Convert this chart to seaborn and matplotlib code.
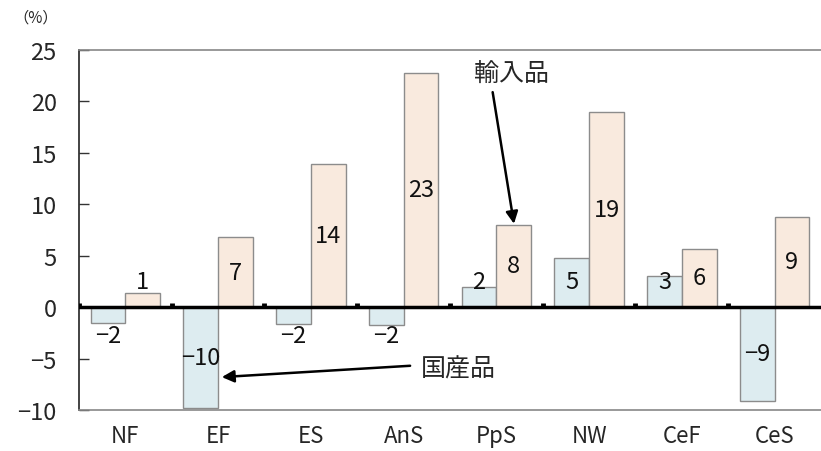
import matplotlib
matplotlib.use("Agg")
import matplotlib.pyplot as plt
import numpy as np
import pandas as pd
import seaborn as sns

categories = ["NF", "EF", "ES", "AnS", "PpS", "NW", "CeF", "CeS"]
domestic = [-1.5, -9.8, -1.6, -1.7, 2.0, 4.8, 3.0, -9.1]
imports = [1.4, 6.8, 13.9, 22.8, 8.0, 19.0, 5.7, 8.8]
series_names = ["国産品", "輸入品"]
yticks = [-10, -5, 0, 5, 10, 15, 20, 25]

sns.set_theme(style="white")
plt.rcParams["font.family"] = ["Noto Sans CJK JP", "DejaVu Sans"]
plt.rcParams["axes.unicode_minus"] = True

df = pd.DataFrame({
    "cat": categories * 2,
    "val": domestic + imports,
    "series": [series_names[0]] * len(categories) + [series_names[1]] * len(categories),
})

fig = plt.figure(figsize=(8.21, 4.52), dpi=100)
ax = fig.add_axes([0.0962, 0.0907, 0.9038, 0.7965])

sns.barplot(data=df, x="cat", y="val", hue="series", order=categories,
            hue_order=series_names, palette=["#DAEEF3", "#FDE9D9"],
            width=0.75, edgecolor="#8c8c8c", linewidth=1.0, legend=False, ax=ax)

ax.set_ylim(-10, 25)
ax.set_xlim(-0.5, len(categories) - 0.5)
ax.set_yticks(yticks)
ax.set_yticklabels([str(t).replace("-", "\u2212") for t in yticks], fontsize=17)
ax.set_xlabel("")
ax.set_ylabel("")
ax.tick_params(axis="x", length=0, pad=10, labelsize=16)
ax.tick_params(axis="y", direction="in", length=7, width=1, color="#333333", pad=16, left=True)

for s in ["top", "bottom"]:
    ax.spines[s].set_color("#888888")
    ax.spines[s].set_linewidth(1.2)
ax.spines["right"].set_visible(False)
ax.spines["left"].set_color("#222222")
ax.spines["left"].set_linewidth(1.2)

# zero line with small marks at category boundaries
ax.axhline(0, color="black", lw=2.5, zorder=5)
bounds = np.arange(len(categories)) - 0.5
ax.vlines(bounds, 0, 0.45, color="black", lw=3.5, zorder=5)

# value labels
for cont in ax.containers:
    for bar in cont:
        h = bar.get_height()
        if np.isnan(h):
            continue
        xc = bar.get_x() + bar.get_width() / 2
        yc = bar.get_y() + h / 2
        if h > 0:
            yc = max(yc, 2.5)
        else:
            yc = min(yc, -2.8)
        ax.text(xc, yc, f"{round(h):d}".replace("-", "\u2212"), ha="center", va="center",
                fontsize=17, color="#111111", zorder=6)

# annotations
arrow = dict(arrowstyle="-|>", color="black", lw=1.8, mutation_scale=18, shrinkA=0, shrinkB=0)
ax.text(4.16, 22.7, series_names[1], ha="center", va="center", fontsize=18)
ax.annotate("", xy=(4.19, 8.1), xytext=(3.96, 20.9), arrowprops=arrow)
ax.text(3.59, -6.0, series_names[0], ha="center", va="center", fontsize=18)
ax.annotate("", xy=(1.04, -6.8), xytext=(3.07, -5.7), arrowprops=arrow)

fig.text(0.043, 0.96, "（%）", ha="center", va="center", fontsize=11)

fig.savefig("out.png", dpi=100)
